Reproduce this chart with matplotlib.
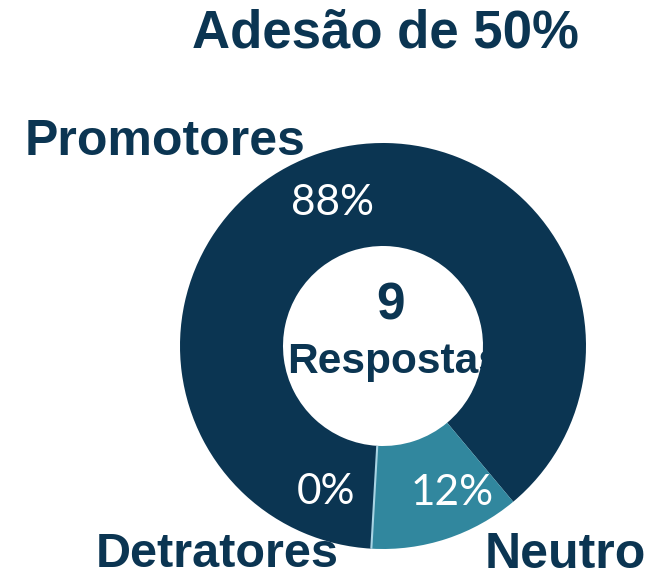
import matplotlib.pyplot as plt
import numpy as np

# data
categories = ["Promotores", "Neutro", "Detratores"]
values = [88, 12, 0]
total_answers = 9
title = "Adesão de 50%"

navy = "#0B3552"
teal = "#31879E"
light = "#A8D3E3"
H = 578

fig = plt.figure(figsize=(6.59, 5.78), dpi=100)
ax = fig.add_axes([0, 0, 1, 1])

wedges, _, pct_texts = ax.pie(
    values, colors=[navy, teal, light], center=(383, H - 346), radius=203,
    startangle=266.7, counterclock=False, autopct="%d%%", pctdistance=0.74,
    wedgeprops=dict(width=103, linewidth=0),
    textprops=dict(color="white", fontsize=30.5, family="Lato"))
# the 0% slice only shows as a thin light line
wedges[2].set_edgecolor(light)
wedges[2].set_linewidth(1.5)

# small slices: labels pushed aside like in the original
for t, (dx, dy) in zip(pct_texts, [(-3, 0), (22, -4), (-48, 4)]):
    x, y = t.get_position()
    t.set_position((x + dx, y + dy))
    t.set_verticalalignment("center")

ax.set_xlim(0, 659)
ax.set_ylim(0, H)
ax.set_aspect("equal")
ax.axis("off")

bold = dict(color=navy, fontweight="bold", family="Liberation Sans")
ax.text(385, H - 47, title, ha="center", va="baseline", fontsize=38, **bold)
ax.text(165, H - 155, categories[0], ha="center", va="baseline", fontsize=36, **bold)
ax.text(565, H - 568, categories[1], ha="center", va="baseline", fontsize=36, **bold)
ax.text(217, H - 567, categories[2], ha="center", va="baseline", fontsize=35, **bold)

# centre text sits under the ring, so the ring clips it
ax.text(391, H - 320, str(total_answers), ha="center", va="baseline",
        fontsize=37, zorder=0, **bold)
ax.text(287, H - 373, "Respostas", ha="left", va="baseline",
        fontsize=30.5, zorder=0, **bold)

fig.savefig("out.png", dpi=100)
